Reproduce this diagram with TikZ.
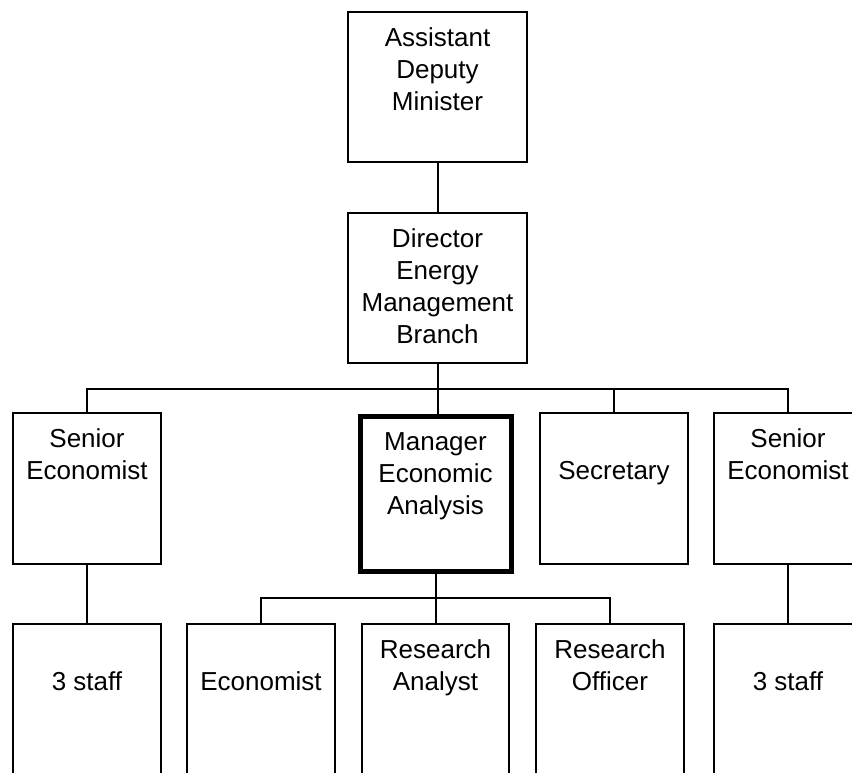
\documentclass[tikz,border=0pt]{standalone}
\usepackage{fontspec}
\setmainfont{Liberation Sans}
\usetikzlibrary{calc}
\newdimen\px \px=0.75pt
\def\postbox#1#2#3{\parbox[c][#2\px][t]{#1\px}{\centering\rule{0pt}{25.5pt}#3}}
\tikzset{
  post/.style={draw, line width=1.5pt, inner sep=0pt, font=\fontsize{19.5pt}{24pt}\selectfont},
  chief/.style={post, line width=3.75pt},
  link/.style={line width=1.5pt}
}

\begin{document}
\begin{tikzpicture}[x=0.75pt, y=-0.75pt]
		%%%%% FRAME %%%%%
		\useasboundingbox (0,0) rectangle (852,772);
		\clip (0,0) rectangle (852,772);
		
		%%%%% BOXES %%%%%
		\node[post] (adm) at (437.5, 87) {\postbox{179}{150}{Assistant\\Deputy\\Minister}};
		\node[post] (dir) at (437.5, 288) {\postbox{179}{150}{Director\\Energy\\Management\\Branch}};
		
		\node[post] (se1) at (87, 488.5) {\postbox{148}{151}{Senior\\Economist}};
		\node[chief] (mgr) at (435.5, 493.5) {\postbox{151}{155}{Manager\\Economic\\Analysis}};
		\node[post] (sec) at (614, 488.5) {\postbox{148}{151}{\mbox{}\\Secretary}};
		\node[post] (se2) at (788, 488.5) {\postbox{148}{151}{Senior\\Economist}};
		
		\node[post] (st1) at (87, 699) {\postbox{148}{150}{\mbox{}\\3 staff}};
		\node[post] (eco) at (261, 699) {\postbox{148}{150}{\mbox{}\\Economist}};
		\node[post] (ra) at (435.5, 699) {\postbox{147}{150}{Research\\Analyst}};
		\node[post] (ro) at (610, 699) {\postbox{148}{150}{Research\\Officer}};
		\node[post] (st2) at (788, 699) {\postbox{148}{150}{\mbox{}\\3 staff}};
		
		%%%%% LINKS %%%%%
		\coordinate (bus) at ($(dir.south)+(0,25)$);
		\coordinate (bus2) at ($(mgr.south)+(0,24)$);
		
		\draw[link] (adm) -- (dir);
		\draw[link] (dir.south) -- (dir.south |- mgr.north);
		\draw[link] (se1.north) |- (bus) -| (se2.north);
		\draw[link] (bus) -| (sec.north);
		\draw[link] (se1) -- (st1);
		\draw[link] (se2) -- (st2);
		
		\draw[link] (eco.north) |- (bus2) -| (ro.north);
		\draw[link] (mgr) -- (ra);
\end{tikzpicture}
\end{document}
